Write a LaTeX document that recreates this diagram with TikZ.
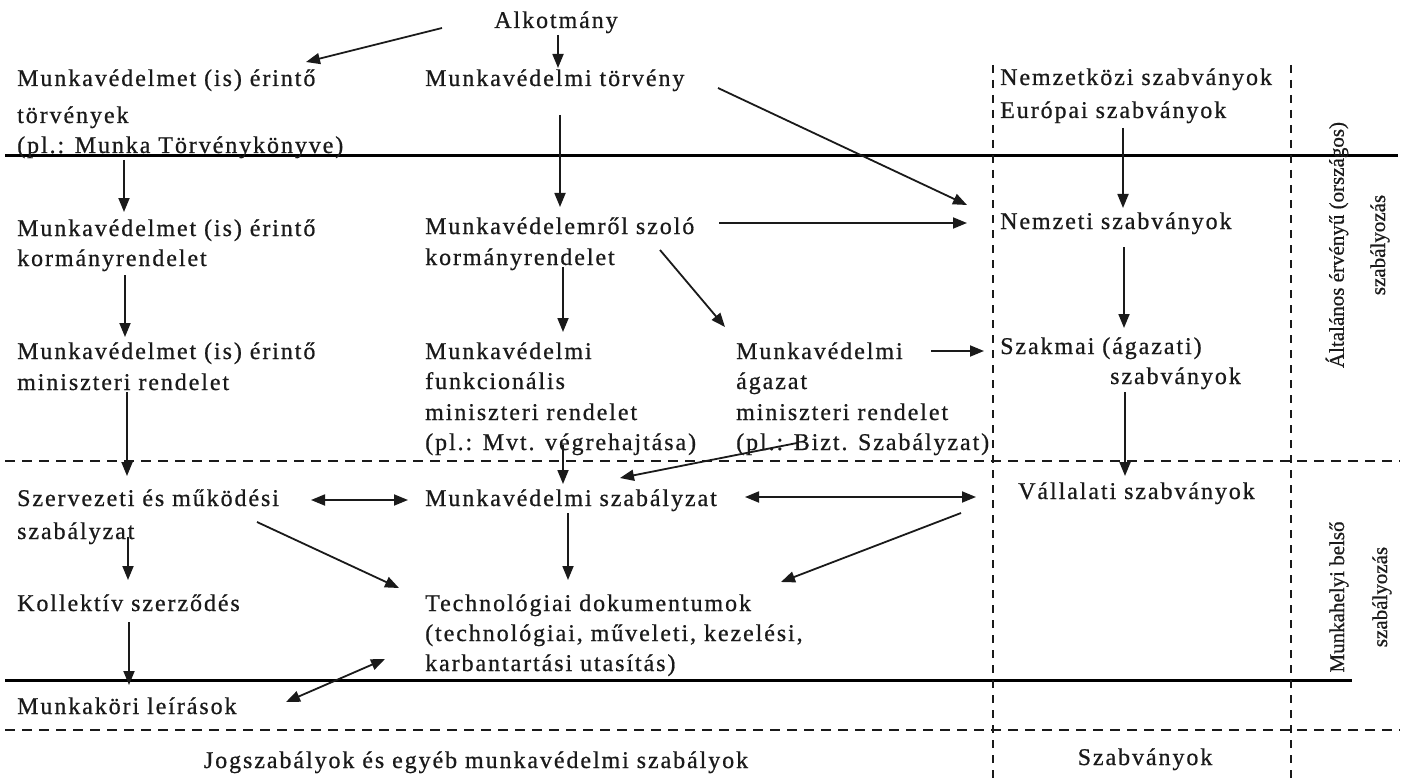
\documentclass[tikz,border=0pt]{standalone}
\usepackage{fontspec}
\setmainfont{Liberation Serif}[LetterSpace=8,FakeBold=0.7]
\newfontfamily\sidefont{Liberation Serif}[FakeBold=0.6]
\usetikzlibrary{arrows.meta}
\definecolor{ink}{HTML}{1A1A1A}
\begin{document}
\begin{tikzpicture}[x=1pt,y=-1pt,
  txt/.style={anchor=base west, inner sep=0pt, text=ink, font=\fontsize{24}{28}\selectfont},
  ctxt/.style={txt, anchor=base},
  side/.style={rotate=90, inner sep=0pt, text=ink, font=\sidefont\fontsize{21}{24}\selectfont},
  arr/.style={line width=1.8pt, draw=ink, -{Triangle[length=14pt,width=11pt]}},
  darr/.style={line width=1.8pt, draw=ink, {Triangle[length=14pt,width=11pt]}-{Triangle[length=14pt,width=11pt]}},
  solidline/.style={line width=3pt, draw=black},
  hdash/.style={line width=2pt, draw=ink, dash pattern=on 10pt off 7pt},
  vdash/.style={line width=2pt, draw=ink, dash pattern=on 8pt off 7pt}]
\fill[white] (0,0) rectangle (1407,778);
\useasboundingbox (0,0) rectangle (1407,778);

% frame lines
\draw[solidline] (5,156) -- (1398,156);
\draw[solidline] (5,680) -- (1352,680);
\draw[hdash] (5,461) -- (1400,461);
\draw[hdash] (5,730) -- (1400,730);
\draw[vdash] (993,65) -- (993,778);
\draw[vdash] (1291,65) -- (1291,778);

% texts
\node[ctxt] (alk) at (556,28) {Alkotmány};
\node[txt] (la1) at (17,86) {Munkavédelmet (is) érintő};
\node[txt] (la2) at (17,123) {törvények};
\node[txt] (la3) at (17,153) {(pl.: Munka Törvénykönyve)};
\node[txt] (ma1) at (425,86) {Munkavédelmi törvény};
\node[txt] (ni1) at (1000,85) {Nemzetközi szabványok};
\node[txt] (ni2) at (1000,118) {Európai szabványok};
\node[txt] (lb1) at (17,236) {Munkavédelmet (is) érintő};
\node[txt] (lb2) at (17,266) {kormányrendelet};
\node[txt] (mb1) at (425,234) {Munkavédelemről szoló};
\node[txt] (mb2) at (425,265) {kormányrendelet};
\node[txt] (nz) at (1000,229) {Nemzeti szabványok};
\node[txt] (lc1) at (17,359) {Munkavédelmet (is) érintő};
\node[txt] (lc2) at (17,390) {miniszteri rendelet};
\node[txt] (mc1) at (425,359) {Munkavédelmi};
\node[txt] (mc2) at (425,389) {funkcionális};
\node[txt] (mc3) at (425,420) {miniszteri rendelet};
\node[txt] (mc4) at (425,450) {(pl.: Mvt. végrehajtása)};
\node[txt] (ac1) at (736,359) {Munkavédelmi};
\node[txt] (ac2) at (736,389) {ágazat};
\node[txt] (ac3) at (736,420) {miniszteri rendelet};
\node[txt] (ac4) at (736,450) {(pl.: Bizt. Szabályzat)};
\node[txt] (sz1) at (1000,354) {Szakmai (ágazati)};
\node[txt] (sz2) at (1110,384) {szabványok};
\node[txt] (ld1) at (17,506) {Szervezeti és működési};
\node[txt] (ld2) at (17,539) {szabályzat};
\node[txt] (md) at (425,506) {Munkavédelmi szabályzat};
\node[txt] (va) at (1018,499) {Vállalati szabványok};
\node[txt] (le) at (17,611) {Kollektív szerződés};
\node[txt] (me1) at (425,611) {Technológiai dokumentumok};
\node[txt] (me2) at (425,641) {(technológiai, műveleti, kezelési,};
\node[txt] (me3) at (425,671) {karbantartási utasítás)};
\node[txt] (lf) at (17,714) {Munkaköri leírások};
\node[ctxt] (jog) at (476,768) {Jogszabályok és egyéb munkavédelmi szabályok};
\node[ctxt] (szab) at (1145,765) {Szabványok};
\node[side] (rot1) at (1337,245) {Általános érvényű (országos)};
\node[side] (rot2) at (1380,245) {szabályozás};
\node[side] (rot3) at (1339,597) {Munkahelyi belső};
\node[side] (rot4) at (1382,597) {szabályozás};

% connectors
\draw[arr] ([xshift=-114pt]alk.base) -- ([xshift=289pt,yshift=24pt]la1.base west);
\draw[arr] ([xshift=2pt,yshift=-7pt]alk.base) -- ([xshift=133pt,yshift=18pt]ma1.base west);
\draw[arr] ([xshift=293pt,yshift=-2pt]ma1.base west) -- ([xshift=-33pt,yshift=24pt]nz.base west);
\draw[arr] ([xshift=123pt,yshift=-10pt]ni2.base west) -- ([xshift=123pt,yshift=21pt]nz.base west);
\draw[arr] ([xshift=107pt,yshift=-7pt]la3.base west) -- ([xshift=107pt,yshift=24pt]lb1.base west);
\draw[arr] ([xshift=135pt,yshift=-29pt]ma1.base west) -- ([xshift=135pt,yshift=27pt]mb1.base west);
\draw[arr] ([xshift=294pt,yshift=11pt]mb1.base west) -- ([xshift=-33pt,yshift=6pt]nz.base west);
\draw[arr] ([xshift=124pt,yshift=-18pt]nz.base west) -- ([xshift=124pt,yshift=26pt]sz1.base west);
\draw[arr] ([xshift=108pt,yshift=-9pt]lb2.base west) -- ([xshift=108pt,yshift=22pt]lc1.base west);
\draw[arr] ([xshift=138pt,yshift=-2pt]mb2.base west) -- ([xshift=138pt,yshift=27pt]mc1.base west);
\draw[arr] ([xshift=235pt,yshift=-16pt]mb1.base west) -- ([xshift=-11pt,yshift=32pt]ac1.base west);
\draw[arr] ([xshift=195pt,yshift=8pt]ac1.base west) -- ([xshift=-16pt,yshift=3pt]sz1.base west);
\draw[arr] ([xshift=15pt,yshift=-8pt]sz2.base west) -- ([xshift=107pt,yshift=23pt]va.base west);
\draw[arr] ([xshift=110pt,yshift=-2pt]lc2.base west) -- ([xshift=110pt,yshift=30pt]ld1.base west);
\draw[arr] ([xshift=138pt,yshift=5pt]mc4.base west) -- ([xshift=138pt,yshift=22pt]md.base west);
\draw[arr] ([xshift=61pt,yshift=7pt]ac4.base west) -- ([xshift=195pt,yshift=28pt]md.base west);
\draw[darr] ([xshift=294pt,yshift=6pt]ld1.base west) -- ([xshift=-17pt,yshift=6pt]md.base west);
\draw[darr] ([xshift=320pt,yshift=9pt]md.base west) -- ([xshift=-42pt,yshift=2pt]va.base west);
\draw[arr] ([xshift=111pt,yshift=2pt]ld2.base west) -- ([xshift=111pt,yshift=31pt]le.base west);
\draw[arr] ([xshift=240pt,yshift=-16pt]ld1.base west) -- ([xshift=-26pt,yshift=23pt]me1.base west);
\draw[arr] ([xshift=143pt,yshift=-7pt]md.base west) -- ([xshift=143pt,yshift=31pt]me1.base west);
\draw[arr] ([xshift=-57pt,yshift=-14pt]va.base west) -- ([xshift=356pt,yshift=29pt]me1.base west);
\draw[arr] ([xshift=112pt,yshift=-11pt]le.base west) -- ([xshift=112pt,yshift=29pt]lf.base west);
\draw[darr] ([xshift=-40pt,yshift=12pt]me3.base west) -- ([xshift=269pt,yshift=12pt]lf.base west);
\end{tikzpicture}
\end{document}
